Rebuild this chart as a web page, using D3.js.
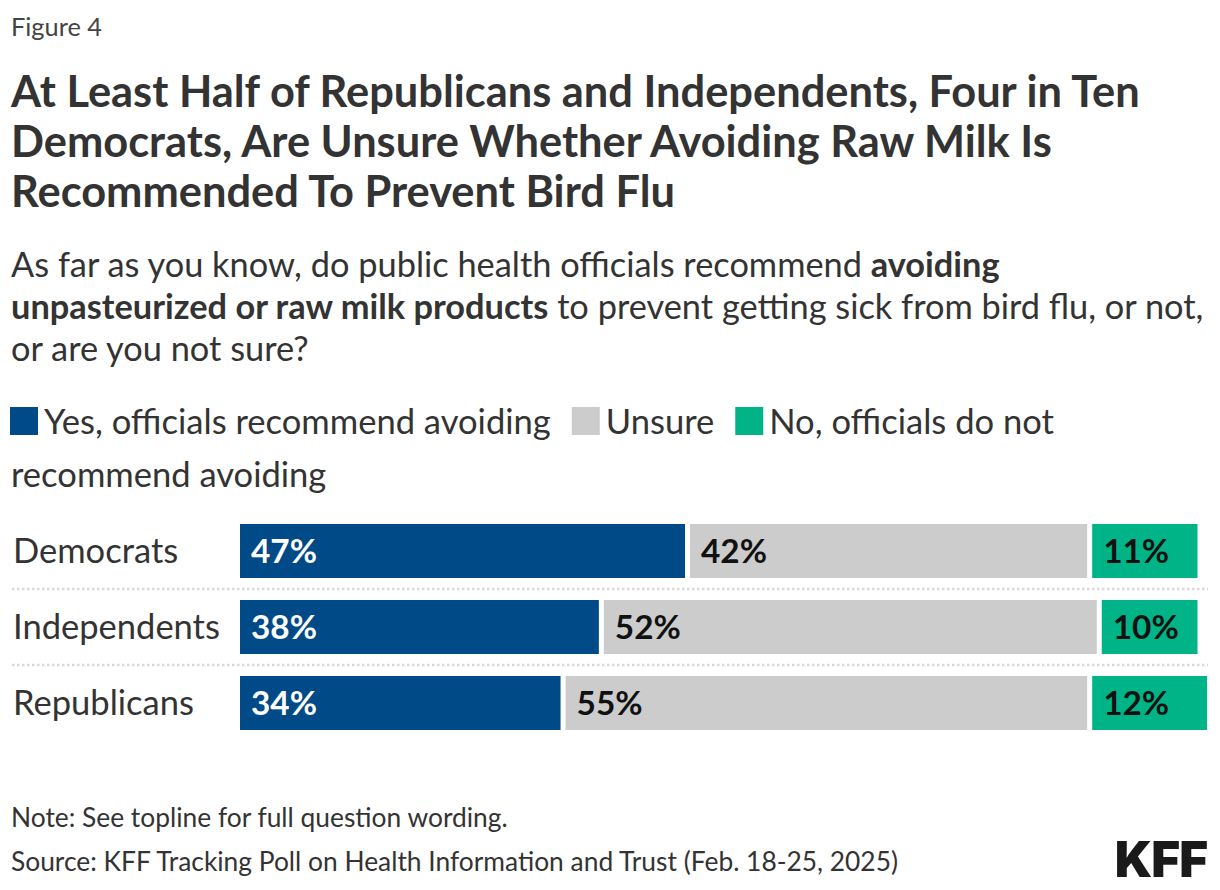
<!DOCTYPE html>
<html>
<head>
<meta charset="utf-8">
<script src="https://cdn.jsdelivr.net/npm/d3@7"></script>
<style>
  html, body { margin: 0; padding: 0; background: #fff; }
  svg { display: block; }
</style>
</head>
<body>
<svg id="chart" width="1220" height="890"></svg>
<script>
// ---------------- DATA ----------------
const categories = ["Democrats", "Independents", "Republicans"];
const seriesKeys = ["yes", "unsure", "no"];
const seriesNames = ["Yes, officials recommend avoiding", "Unsure", "No, officials do not recommend avoiding"];
const yesValues = [47, 38, 34];
const unsureValues = [42, 52, 55];
const noValues = [11, 10, 12];

const figureLabel = "Figure 4";
const titleLines = [
  "At Least Half of Republicans and Independents, Four in Ten",
  "Democrats, Are Unsure Whether Avoiding Raw Milk Is",
  "Recommended To Prevent Bird Flu"
];
const subtitleLines = [
  [["As far as you know, do public health officials recommend ", false], ["avoiding", true]],
  [["unpasteurized or raw milk products", true], [" to prevent getting sick from bird flu, or not,", false]],
  [["or are you not sure?", false]]
];
const noteText = "Note: See topline for full question wording.";
const sourceText = "Source: KFF Tracking Poll on Health Information and Trust (Feb. 18-25, 2025)";

// ---------------- STYLE ----------------
const colors = { yes: "#004a87", unsure: "#cccccc", no: "#00b488" };
const labelColors = { yes: "#ffffff", unsure: "#111111", no: "#111111" };
const FONT = "Lato, 'Source Sans Pro', 'Noto Sans', sans-serif";
const TEXT = "#333333";

const svg = d3.select("#chart");

function fit(sel, refNode, target) {
  const fs = parseFloat(refNode.getAttribute("font-size"));
  const w = refNode.getComputedTextLength();
  const nfs = fs * target / w;
  sel.attr("font-size", nfs);
  return nfs;
}

// Figure label
const fig = svg.append("text").attr("x", 11).attr("y", 36)
  .attr("font-family", FONT).attr("font-size", 24).attr("fill", "#444")
  .text(figureLabel);
fit(fig, fig.node(), 91);

// Title
const titleSel = svg.selectAll("text.title").data(titleLines).join("text")
  .attr("class", "title")
  .attr("x", 11).attr("y", (d, i) => 107 + i * 50)
  .attr("font-family", FONT).attr("font-weight", 700).attr("font-size", 40)
  .attr("fill", TEXT).text(d => d);
fit(titleSel, titleSel.nodes()[0], 1129);

// Subtitle
const subSel = svg.selectAll("text.sub").data(subtitleLines).join("text")
  .attr("class", "sub")
  .attr("x", 11).attr("y", (d, i) => 277 + i * 42)
  .attr("font-family", FONT).attr("font-size", 30).attr("fill", TEXT);
subSel.selectAll("tspan").data(d => d).join("tspan")
  .attr("font-weight", d => d[1] ? 700 : 400)
  .text(d => d[0]);
fit(subSel, subSel.nodes()[0], 989);

// Legend
const legendG = svg.append("g").attr("font-family", FONT).attr("fill", TEXT);
const probe = legendG.append("text").attr("font-size", 30).text(seriesNames[0]);
const legendFs = fit(probe, probe.node(), 507);
probe.remove();
{
  let x = 10, y = 434;
  const maxX = 1212, lineH = 53;
  seriesKeys.forEach((k, i) => {
    legendG.append("rect").attr("x", x).attr("y", y - 27).attr("width", 28).attr("height", 28)
      .attr("fill", colors[k]);
    x += 34;
    const words = seriesNames[i].split(" ");
    let line = [];
    let t = legendG.append("text").attr("x", x).attr("y", y).attr("font-size", legendFs);
    words.forEach(w => {
      line.push(w);
      t.text(line.join(" "));
      if (x + t.node().getComputedTextLength() > maxX && line.length > 1) {
        line.pop();
        t.text(line.join(" "));
        line = [w];
        y += lineH; x = 11;
        t = legendG.append("text").attr("x", x).attr("y", y).attr("font-size", legendFs).text(w);
      }
    });
    x += t.node().getComputedTextLength() + 21;
  });
}

// Bars
const table = categories.map((c, i) => ({ category: c, yes: yesValues[i], unsure: unsureValues[i], no: noValues[i] }));
const stacked = d3.stack().keys(seriesKeys)(table);

const x = d3.scaleLinear().domain([0, 100]).range([240, 1197.5]);
const y = d3.scaleBand().domain(categories).range([513, 741]).paddingInner(22 / 76).paddingOuter(11 / 76);

// separators
const sepY = categories.slice(1).map(c => y(c) - (y.step() - y.bandwidth()) / 2);
svg.selectAll("line.sep").data(sepY).join("line")
  .attr("class", "sep")
  .attr("x1", 12).attr("x2", 1208).attr("y1", d => d).attr("y2", d => d)
  .attr("stroke", "#d9d9d9").attr("stroke-width", 2.5).attr("stroke-dasharray", "2.5,2.5");

const gap = 5;
const segG = svg.selectAll("g.series").data(stacked).join("g").attr("class", "series");
segG.selectAll("rect").data((s, si) => s.map(d => ({ d, key: s.key, last: si === stacked.length - 1 })))
  .join("rect")
  .attr("x", o => x(o.d[0]))
  .attr("y", o => y(o.d.data.category))
  .attr("height", y.bandwidth())
  .attr("width", o => x(o.d[1]) - x(o.d[0]) - (o.last ? 0 : gap))
  .attr("fill", o => colors[o.key]);

const barLabels = segG.selectAll("text").data(s => s.map(d => ({ d, key: s.key })))
  .join("text")
  .attr("x", o => x(o.d[0]) + 11)
  .attr("y", o => y(o.d.data.category) + y.bandwidth() / 2 + 12)
  .attr("font-family", FONT).attr("font-weight", 700).attr("font-size", 28)
  .attr("fill", o => labelColors[o.key])
  .text(o => (o.d[1] - o.d[0]) + "%");
fit(svg.selectAll("g.series text"), barLabels.nodes()[0], 66);

// Category labels
const catSel = svg.selectAll("text.cat").data(categories).join("text")
  .attr("class", "cat")
  .attr("x", 13).attr("y", d => y(d) + y.bandwidth() / 2 + 12)
  .attr("font-family", FONT).attr("font-size", 30).attr("fill", TEXT)
  .text(d => d);
fit(catSel, catSel.nodes()[1], 207);

// Notes
const noteSel = svg.selectAll("text.note").data([noteText, sourceText]).join("text")
  .attr("class", "note")
  .attr("x", 11).attr("y", (d, i) => 827 + i * 44)
  .attr("font-family", FONT).attr("font-size", 24).attr("fill", TEXT)
  .text(d => d);
fit(noteSel, noteSel.nodes()[0], 497);

// Logo
const logo = svg.append("text").attr("x", 1207).attr("y", 877).attr("text-anchor", "end")
  .attr("font-family", "Inter, Roboto, 'DejaVu Sans', sans-serif").attr("font-weight", 900)
  .attr("font-size", 46).attr("letter-spacing", -1).attr("fill", "#1a1a1a").text("KFF");
fit(logo, logo.node(), 92);
</script>
</body>
</html>
